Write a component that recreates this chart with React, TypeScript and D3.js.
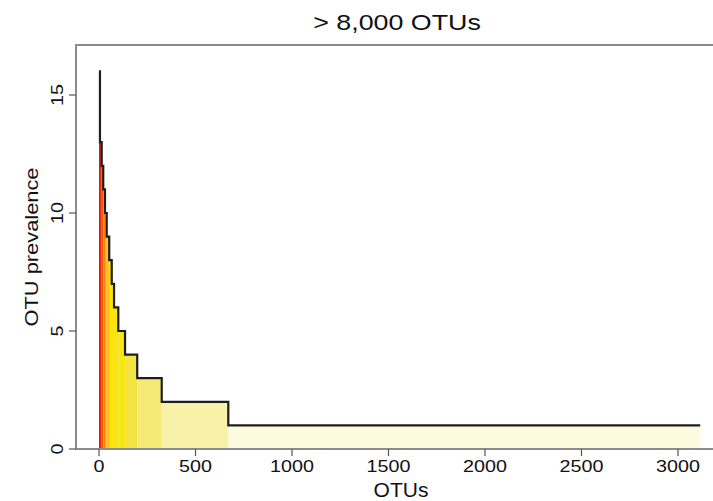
import React, { useRef, useEffect } from 'react';
import * as d3 from 'd3';

// prevalence level of each step and the OTU rank where the step ends
const stepLevels = [16, 13, 12, 11, 10, 9, 8, 7, 6, 5, 4, 3, 2, 1];
const stepEnds = [5, 14, 22, 31, 40, 53, 66, 78, 100, 135, 198, 325, 670, 3115];
const stepColors = [
  '#e60d0a', '#ef2a0b', '#f4560b', '#f8850c', '#fbaa0b', '#fcc60a', '#fcd80a',
  '#fbe30b', '#f8e50d', '#f6e612', '#f3e444', '#f4ea75', '#f8f2a9', '#fdfadf',
];
const xTicks = [0, 500, 1000, 1500, 2000, 2500, 3000];
const yTicks = [0, 5, 10, 15];

const App = () => {
  const svgRef = useRef<SVGSVGElement>(null);

  useEffect(() => {
    const svg = d3.select(svgRef.current);
    svg.selectAll('*').remove();

    const boxLeft = 76;
    const boxTop = 45;
    const boxBottom = 449;
    const boxRight = 720;

    const x = d3.scaleLinear().domain([0, 3000]).range([99, 678]);
    const y = d3.scaleLinear().domain([0, 15]).range([449, 95]);

    const font = 'Liberation Sans, Arial, Helvetica, sans-serif';

    // filled steps
    const starts = [0, ...stepEnds.slice(0, -1)];
    svg.append('g')
      .selectAll('rect')
      .data(stepLevels)
      .join('rect')
      .attr('x', (d, i) => x(starts[i]))
      .attr('width', (d, i) => x(stepEnds[i]) - x(starts[i]))
      .attr('y', d => y(d))
      .attr('height', d => y(0) - y(d))
      .attr('fill', (d, i) => stepColors[i]);

    // step outline
    const pts: [number, number][] = [];
    stepLevels.forEach((lvl, i) => {
      pts.push([starts[i], lvl]);
      pts.push([stepEnds[i], lvl]);
    });
    const line = d3.line<[number, number]>()
      .x(d => x(d[0]))
      .y(d => y(d[1]));
    svg.append('path')
      .datum(pts)
      .attr('d', line)
      .attr('fill', 'none')
      .attr('stroke', '#1e1e1e')
      .attr('stroke-width', 2.2);

    // box (right side falls off the image)
    svg.append('path')
      .attr('d', `M${boxRight},${boxTop}H${boxLeft}V${boxBottom}H${boxRight}`)
      .attr('fill', 'none')
      .attr('stroke', '#8c8c8c')
      .attr('stroke-width', 2);

    // x axis
    const xg = svg.append('g');
    xg.selectAll('line')
      .data(xTicks)
      .join('line')
      .attr('x1', d => x(d)).attr('x2', d => x(d))
      .attr('y1', boxBottom).attr('y2', boxBottom + 7)
      .attr('stroke', '#555')
      .attr('stroke-width', 1.2);
    xg.selectAll('text')
      .data(xTicks)
      .join('text')
      .attr('transform', d => `translate(${x(d)},472) scale(1.16,1)`)
      .attr('text-anchor', 'middle')
      .attr('font-family', font)
      .attr('font-size', 17)
      .attr('fill', '#111')
      .text(d => d);

    // y axis
    const yg = svg.append('g');
    yg.selectAll('line')
      .data(yTicks)
      .join('line')
      .attr('x1', boxLeft).attr('x2', boxLeft - 7)
      .attr('y1', d => y(d)).attr('y2', d => y(d))
      .attr('stroke', '#555')
      .attr('stroke-width', 1.2);
    yg.selectAll('text')
      .data(yTicks)
      .join('text')
      .attr('transform', d => `translate(63,${y(d)}) rotate(-90) scale(1.16,1)`)
      .attr('text-anchor', 'middle')
      .attr('font-family', font)
      .attr('font-size', 17)
      .attr('fill', '#111')
      .text(d => d);

    svg.append('text')
      .attr('transform', `translate(38,${(boxTop + boxBottom) / 2}) rotate(-90) scale(1.15,1)`)
      .attr('text-anchor', 'middle')
      .attr('font-family', font)
      .attr('font-size', 19)
      .attr('fill', '#111')
      .text('OTU prevalence');

    svg.append('text')
      .attr('x', 401)
      .attr('y', 497)
      .attr('text-anchor', 'middle')
      .attr('font-family', font)
      .attr('font-size', 21)
      .attr('fill', '#111')
      .text('OTUs');

    svg.append('text')
      .attr('transform', 'translate(397,30) scale(1.22,1)')
      .attr('text-anchor', 'middle')
      .attr('font-family', font)
      .attr('font-size', 22)
      .attr('fill', '#111')
      .text('> 8,000 OTUs');
  }, []);

  return (
    <svg
      ref={svgRef}
      width={713}
      height={501}
      style={{ position: 'absolute', left: 0, top: 0, background: '#fff' }}
    />
  );
};

export default App;
